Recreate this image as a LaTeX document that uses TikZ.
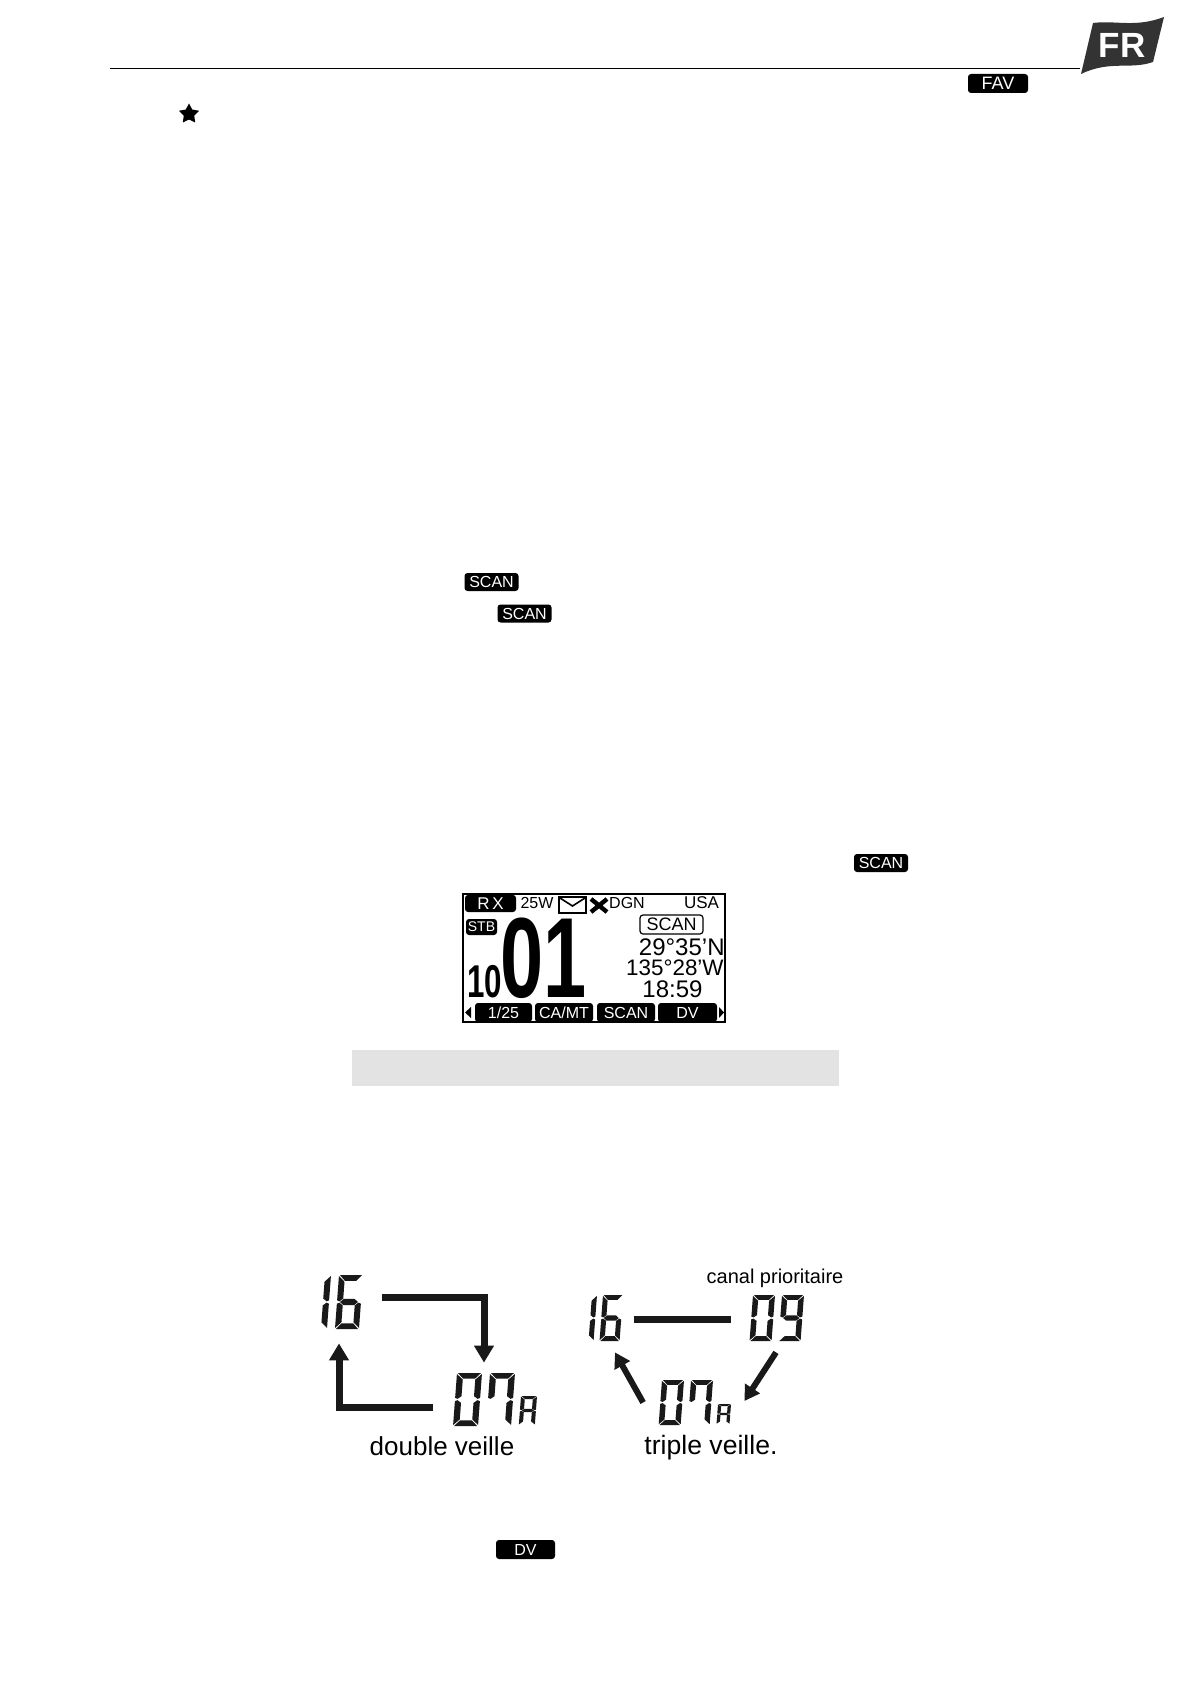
\documentclass[tikz,border=0pt]{standalone}
\usepackage{fontspec}
\setmainfont{Liberation Sans}
\newfontfamily\lcdnarrow[FakeStretch=0.68]{Liberation Sans}
\usetikzlibrary{arrows.meta,positioning,calc,shapes.geometric}

% segments of one display digit, in a box 4 wide and 8 high
\def\segparta{(0.15,0) -- (3.85,0) -- (2.95,0.85) -- (1.05,0.85) -- cycle}
\def\segpartb{(4,0.15) -- (4,3.75) -- (3.6,3.9) -- (3,3.5) -- (3,1) -- cycle}
\def\segpartc{(4,4.25) -- (4,7.85) -- (3,7) -- (3,4.5) -- (3.6,4.1) -- cycle}
\def\segpartd{(0.15,8) -- (3.85,8) -- (2.95,7.15) -- (1.05,7.15) -- cycle}
\def\segparte{(0,4.25) -- (0,7.85) -- (1,7) -- (1,4.5) -- (0.4,4.1) -- cycle}
\def\segpartf{(0,0.15) -- (0,3.75) -- (0.4,3.9) -- (1,3.5) -- (1,1) -- cycle}
\def\segpartg{(0.5,4) -- (1.1,3.55) -- (2.9,3.55) -- (3.5,4) -- (2.9,4.45) -- (1.1,4.45) -- cycle}
% \segdigit{left}{top}{width}{height}{list macro of segments}
\newcommand{\segdigit}[5]{%
  \begin{scope}[shift={(#1,#2)},xslant=0.075,x=#3*0.125pt,y=-#4*0.0625pt]
    \foreach \s in #5 {\fill[black!90] \csname segpart\s\endcsname;}
  \end{scope}}
\def\digzero{a,b,c,d,e,f}
\def\digone{b,c}
\def\digsix{a,c,d,e,f,g}
\def\digseven{a,b,c,f}
\def\dignine{a,b,c,d,f,g}
\def\diga{a,b,c,e,f,g}

\tikzset{
  softbadge/.style={fill=black, text=white, rounded corners=1.5pt, inner sep=0pt, font=\fontsize{8}{8}\selectfont},
  lcdtext/.style={inner sep=0pt, font=\fontsize{8}{8}\selectfont},
  lcdline/.style={inner sep=0pt, font=\fontsize{12}{12}\selectfont},
  segnum/.style={inner sep=0pt, text opacity=0, font=\fontsize{20}{20}\selectfont},
  fatline/.style={line width=3.5pt, black!90},
  fatarrow/.style={fatline, -{Triangle[length=8.5pt,width=9.5pt]}},
  slimarrow/.style={line width=3pt, black!90, -{Triangle[length=7.5pt,width=8.5pt]}},
  caption/.style={inner sep=0pt, font=\fontsize{13}{13}\selectfont}
}

\begin{document}
\begin{tikzpicture}[x=0.5pt,y=-0.5pt]
    \useasboundingbox (0,0) rectangle (1191,1684);
    \fill[white] (0,0) rectangle (1191,1684);

    % Header rule and language flag
    \draw[line width=0.5pt] (110,68.5) -- (1080,68.5);
    \fill[black!80] (1093,23) .. controls (1115,20) and (1135,28) .. (1164,17)
        -- (1153,62) .. controls (1130,70) and (1110,60) .. (1081,74) -- cycle;
    \node[text=white, inner sep=0pt, font=\fontsize{17.5}{17.5}\selectfont\bfseries] (flagtext) at (1122,45) {FR};

    % Soft keys in the running text
    \node[softbadge, font=\fontsize{9}{9}\selectfont, minimum width=30pt, minimum height=9.5pt] (keyfav) at (998,83.5) {FAV};
    \node[star, star points=5, star point ratio=1.9, fill=black, inner sep=0pt, minimum size=10.5pt] (favstar) at (189,114) {};
    \foreach \name/\cx/\cy in {keyscana/491.5/582, keyscanb/524.5/613.5, keyscanc/881/863}
        \node[softbadge, minimum width=27pt, minimum height=9pt] (\name) at (\cx,\cy) {SCAN};
    \node[softbadge, minimum width=29.5pt, minimum height=9.5pt] (keydv) at (525.5,1549.5) {DV};

    % Display
    \draw[line width=0.8pt] (463,894) rectangle (725,1022);
    \node[softbadge, font=\fontsize{8.5}{8.5}\selectfont, minimum width=25.5pt, minimum height=8.5pt] (lcdrx) at (490.5,903.5) {R\,X};
    \node[lcdtext] (lcdpower) at (537,903) {25W};
    \draw[line width=1pt] (559,897) rectangle (586,913);
    \draw[line width=0.8pt] (560,898) -- (572.5,906) -- (585,898);
    \draw[line width=2.2pt] (591,899) -- (607,912) (591,912) -- (607,899);
    \node[lcdtext] (lcddgn) at (627,903) {DGN};
    \node[lcdtext, font=\fontsize{8.5}{8.5}\selectfont] (lcdusa) at (701.5,903) {USA};
    \node[softbadge, font=\fontsize{7}{7}\selectfont, minimum width=15.5pt, minimum height=8pt] (lcdstb) at (481.5,927) {STB};
    \node[inner sep=0pt, font=\lcdnarrow\bfseries\fontsize{57}{57}\selectfont] (lcdbig) at (544,958) {01};
    \node[inner sep=0pt, font=\lcdnarrow\bfseries\fontsize{23}{23}\selectfont] (lcdsmall) at (484.5,982) {10};
    \node[draw, line width=0.6pt, rounded corners=1.5pt, inner sep=0pt, minimum width=31.5pt, minimum height=9.5pt, font=\fontsize{9}{9}\selectfont] (lcdscan) at (671.5,924.5) {SCAN};
    \node[lcdline, anchor=east] (lcdlat) at (725,947) {29°35'N};
    \node[lcdline, anchor=east, font=\fontsize{11.2}{11.2}\selectfont] (lcdlon) at (724,968) {135°28'W};
    \node[lcdline] (lcdtime) at (672.5,989) {18:59};

    % Display soft key row
    \foreach \name/\lft/\rgt/\txt in {taba/475/532/1\slash 25, tabb/535/593/CA\slash MT, tabc/597/655/SCAN, tabd/658/717/DV}
        \node[softbadge, minimum width={(\rgt-\lft)*0.5pt}, minimum height=9.5pt] (\name) at ({(\lft+\rgt)/2},1012.5) {\txt};
    \fill (471,1007) -- (471,1018) -- (465,1012.5) -- cycle;
    \fill (719,1007) -- (719,1018) -- (724,1012.5) -- cycle;

    % Empty grey band
    \fill[black!11] (352,1050) rectangle (839,1086);

    % Dual watch
    \node[segnum, minimum width=21pt, minimum height=27pt] (dualsixteen) at (342,1302) {16};
    \segdigit{307}{1275}{24}{54}{\digone}
    \segdigit{339}{1275}{24}{54}{\digsix}
    \node[segnum, minimum width=42pt, minimum height=26.5pt] (dualseven) at (495,1399.5) {07A};
    \segdigit{457}{1373}{25}{53}{\digzero}
    \segdigit{490}{1373}{25}{53}{\digseven}
    \segdigit{521}{1396}{16}{29}{\diga}
    \draw[fatarrow] ([xshift=8.5pt,yshift=2.5pt]dualsixteen.east) -| ([xshift=-5.5pt,yshift=5pt]dualseven.north);
    \draw[fatarrow] ([xshift=-10pt,yshift=-3.75pt]dualseven.west) -| ([xshift=-1.5pt,yshift=-7pt]dualsixteen.south);
    \node[caption] (dualcap) at (442,1446) {double veille};

    % Triple watch
    \node[segnum, minimum width=22pt, minimum height=23pt] (trisixteen) at (606,1318) {16};
    \segdigit{577}{1295}{20}{46}{\digone}
    \segdigit{603}{1295}{20}{46}{\digsix}
    \node[segnum, minimum width=27.5pt, minimum height=23pt] (trinine) at (777.5,1318) {09};
    \segdigit{753}{1295}{22}{46}{\digzero}
    \segdigit{782}{1295}{22}{46}{\dignine}
    \node[segnum, minimum width=36.5pt, minimum height=22.5pt] (triseven) at (694.5,1402.5) {07A};
    \segdigit{662}{1380}{22}{45}{\digzero}
    \segdigit{691}{1380}{22}{45}{\digseven}
    \segdigit{718}{1404}{13}{20}{\diga}
    \draw[fatline] ([xshift=2.5pt,yshift=-0.5pt]trisixteen.east) -- ([xshift=-9.5pt,yshift=-0.5pt]trinine.west);
    \draw[slimarrow] ([xshift=-0.75pt,yshift=-5.5pt]trinine.south) -- ([xshift=6.5pt,yshift=0.75pt]triseven.east);
    \draw[slimarrow] ([xshift=-7.25pt]triseven.west) -- ([xshift=4.5pt,yshift=-5.5pt]trisixteen.south);
    \node[caption, font=\fontsize{13.3}{13.3}\selectfont] (tricap) at (711,1448) {triple veille.};
    \node[caption, font=\fontsize{10}{10}\selectfont] (tripri) at (775,1278) {canal prioritaire};
\end{tikzpicture}
\end{document}
